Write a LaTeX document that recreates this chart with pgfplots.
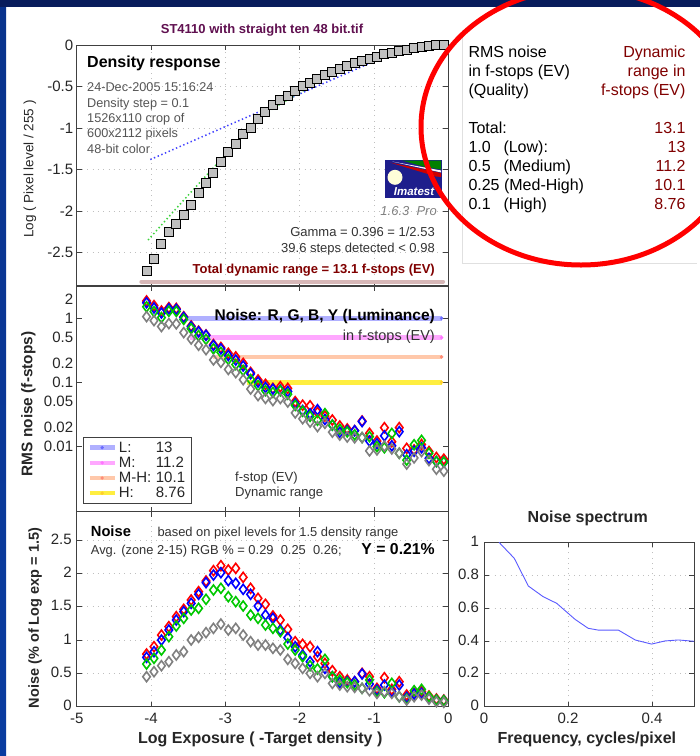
\documentclass[border=0pt]{standalone}
\usepackage{fontspec}
\setmainfont{Liberation Sans}
\usepackage{pgfplots}
\pgfplotsset{compat=1.18}
\usepackage{pgfplotstable}
\definecolor{navy}{RGB}{8,28,92}
\definecolor{sideblue}{RGB}{10,60,160}
\definecolor{ttl}{RGB}{96,16,80}
\definecolor{dred}{RGB}{128,0,0}
\definecolor{txtgray}{RGB}{85,85,85}
\definecolor{Lcol}{RGB}{176,176,255}
\definecolor{Mcol}{RGB}{255,168,255}
\definecolor{MHcol}{RGB}{255,200,170}
\definecolor{Hcol}{RGB}{255,238,64}
\definecolor{sqfill}{RGB}{192,192,192}
\definecolor{dgreen}{RGB}{0,200,0}
\definecolor{fitgreen}{RGB}{60,210,60}
\definecolor{specblue}{RGB}{90,90,255}
\definecolor{drline}{RGB}{216,184,184}
\definecolor{logoblue}{RGB}{30,30,140}
\definecolor{Ygray}{RGB}{128,128,128}

\pgfplotstableread{
x logp
-4.06 -2.724
-3.96 -2.579
-3.86 -2.397
-3.76 -2.252
-3.66 -2.151
-3.56 -2.050
-3.46 -1.925
-3.36 -1.788
-3.26 -1.659
-3.16 -1.546
-3.06 -1.413
-2.96 -1.295
-2.86 -1.190
-2.76 -1.069
-2.66 -0.997
-2.56 -0.888
-2.46 -0.807
-2.36 -0.726
-2.26 -0.666
-2.16 -0.613
-2.06 -0.553
-1.96 -0.496
-1.86 -0.452
-1.76 -0.408
-1.66 -0.363
-1.56 -0.323
-1.46 -0.287
-1.36 -0.254
-1.26 -0.222
-1.16 -0.194
-1.06 -0.166
-0.96 -0.141
-0.86 -0.113
-0.76 -0.093
-0.66 -0.073
-0.56 -0.057
-0.46 -0.040
-0.36 -0.024
-0.26 -0.012
-0.16 -0.004
-0.06 0.000
}\density

\pgfplotstableread{
x R G B Y
-4.06 1.87 1.515 1.75 1.065
-3.96 1.58 1.273 1.449 0.922
-3.86 1.30 1.028 1.209 0.744
-3.76 1.47 1.286 1.409 0.827
-3.66 1.43 1.281 1.377 0.821
-3.56 1.06 0.962 1.035 0.599
-3.46 0.76 0.689 0.736 0.475
-3.36 0.63 0.538 0.615 0.380
-3.26 0.55 0.470 0.543 0.324
-3.16 0.39 0.334 0.377 0.224
-3.06 0.35 0.294 0.333 0.205
-2.96 0.284 0.229 0.262 0.159
-2.86 0.25 0.190 0.223 0.142
-2.76 0.198 0.154 0.180 0.110
-2.66 0.143 0.111 0.136 0.0786
-2.56 0.109 0.0889 0.101 0.0621
-2.46 0.093 0.0742 0.0833 0.0561
-2.36 0.0806 0.0697 0.0786 0.0519
-2.26 0.0855 0.074 0.0757 0.0559
-2.16 0.0806 0.0653 0.0719 0.0493
-2.06 0.050 0.0436 0.0462 0.0333
-1.96 0.044 0.0353 0.0364 0.027
-1.86 0.043 0.0294 0.0323 0.0239
-1.76 0.034 0.0256 0.0374 0.0204
-1.66 0.0298 0.0325 0.0263 0.0229
-1.56 0.0258 0.0215 0.0215 0.0167
-1.46 0.0208 0.0185 0.0166 0.015
-1.36 0.0187 0.0168 0.0176 0.014
-1.26 0.0176 0.0152 0.0176 0.0136
-1.16 0.0249 0.0137 0.0244 0.0137
-1.06 0.016 0.0142 0.0121 0.0085
-0.96 0.0121 0.0099 0.011 0.0088
-0.86 0.0196 0.0095 0.0146 0.0101
-0.76 0.0118 0.0159 0.0102 0.0091
-0.66 0.0196 0.0078 0.017 0.0078
-0.56 0.0093 0.0061 0.0074 0.0053
-0.46 0.0088 0.0106 0.0084 0.0066
-0.36 0.0107 0.0124 0.0095 0.0083
-0.26 0.0083 0.0078 0.0065 0.006
-0.16 0.0067 0.0058 0.0058 0.0044
-0.06 0.0063 0.0057 0.0057 0.0041
}\fstop

\pgfplotstableread{
x R G B Y
-4.06 0.79 0.64 0.74 0.45
-3.96 0.90 0.725 0.825 0.525
-3.86 1.075 0.85 1.00 0.615
-3.76 1.20 1.05 1.15 0.675
-3.66 1.35 1.21 1.30 0.775
-3.56 1.46 1.325 1.425 0.825
-3.46 1.60 1.45 1.55 1.00
-3.36 1.725 1.475 1.685 1.04
-3.26 1.885 1.61 1.86 1.11
-3.16 2.04 1.75 1.975 1.175
-3.06 2.115 1.775 2.01 1.24
-2.96 2.05 1.65 1.89 1.15
-2.86 2.075 1.575 1.85 1.175
-2.76 1.94 1.51 1.76 1.075
-2.66 1.775 1.375 1.685 0.975
-2.56 1.625 1.325 1.51 0.925
-2.46 1.535 1.225 1.375 0.925
-2.36 1.36 1.175 1.325 0.875
-2.26 1.30 1.125 1.15 0.85
-2.16 1.16 0.94 1.035 0.71
-2.06 0.975 0.85 0.90 0.65
-1.96 0.935 0.75 0.775 0.575
-1.86 0.90 0.615 0.675 0.50
-1.76 0.75 0.565 0.825 0.45
-1.66 0.65 0.71 0.575 0.50
-1.56 0.54 0.45 0.45 0.35
-1.46 0.45 0.40 0.36 0.325
-1.36 0.40 0.36 0.375 0.30
-1.26 0.375 0.325 0.375 0.29
-1.16 0.50 0.275 0.49 0.275
-1.06 0.45 0.40 0.34 0.24
-0.96 0.275 0.225 0.25 0.20
-0.86 0.435 0.21 0.325 0.225
-0.76 0.26 0.35 0.225 0.20
-0.66 0.375 0.15 0.325 0.15
-0.56 0.175 0.115 0.14 0.10
-0.46 0.20 0.24 0.19 0.15
-0.36 0.225 0.26 0.20 0.175
-0.26 0.16 0.15 0.125 0.115
-0.16 0.115 0.10 0.10 0.075
-0.06 0.10 0.09 0.09 0.065
}\linnoise

\pgfplotsset{
  panel/.style={scale only axis, anchor=south west, xmin=-5, xmax=0, width=371.6pt,
    tick align=inside, major tick length=5pt,
    axis line style={black!75, line width=0.8pt},
    tick style={black!75, line width=0.8pt},
    tick label style={font=\fontsize{15}{17}\selectfont, text=black!85},
    /pgf/number format/assume math mode=true,
    xtick={-4,-3,-2,-1},
    grid style={gray!50, line width=0.7pt, dash pattern=on 0.8pt off 4.5pt}},
  dia/.style={only marks, mark=diamond, mark size=5pt, mark options={solid, line width=1.6pt}, forget plot}
}

\begin{document}
\begin{tikzpicture}
\fill[white] (0pt,0pt) rectangle (700pt,-756pt);
\shade[top color=sideblue!70!navy, bottom color=sideblue] (0pt,-7pt) rectangle (6pt,-756pt);
\fill[navy] (0pt,0pt) rectangle (700pt,-7pt);
\draw[black!12, line width=0.8pt] (462pt,-30pt) -- (462pt,-263pt) -- (697pt,-263pt);

% ---------------- Density response
\begin{axis}[panel, at={(76.7pt,-285.7pt)}, height=240.7pt, ymin=-2.9, ymax=0,
  xticklabels={}, ytick={-2.5,-2,-1.5,-1,-0.5,0}, grid=major,
  ylabel={Log ( Pixel level / 255 )},
  ylabel style={at={(axis description cs:-0.1257,0.485)}, anchor=center, font=\fontsize{13.5}{14}\selectfont, text=black!85}]
\addplot[drline, line width=4pt, line cap=round] coordinates {(-4.13,-2.85) (-0.07,-2.85)};
\addplot[blue!75, line width=1.5pt, dash pattern=on 1.4pt off 2.6pt] coordinates {(-4.01,-1.38) (-0.6,-0.04)};
\addplot[fitgreen, line width=1.5pt, dash pattern=on 1.4pt off 2.6pt, smooth] coordinates {(-4.04,-2.35) (-3.5,-1.81) (-2.89,-1.22) (-2.5,-0.86) (-2.2,-0.68) (-1.5,-0.33) (-1.0,-0.17) (-0.5,-0.07) (-0.06,-0.02)};
\addplot[only marks, mark=square*, mark size=4.5pt, mark options={fill=sqfill, draw=black, line width=1pt}] table[x=x,y=logp]{\density};
\end{axis}

% ---------------- Noise in f-stops
\begin{axis}[panel, at={(76.7pt,-511.5pt)}, height=225.5pt, ymode=log, ymin=0.00096, ymax=3.2,
  xticklabels={}, ytick={0.01,0.1,1}, yticklabels={0.01,0.1,1},
  extra y ticks={0.02,0.05,0.2,0.5,2}, extra y tick labels={0.02,0.05,0.2,0.5,2},
  extra y tick style={major tick length=0pt}, yminorticks=false,
  ylabel={RMS noise (f-stops)},
  ylabel style={at={(axis description cs:-0.130,0.477)}, anchor=center, font=\bfseries\fontsize{15.4}{16}\selectfont, text=black!85},
  legend image code/.code={\draw[mark repeat=2,mark phase=2,#1] plot coordinates {(0pt,0pt) (12.5pt,0pt) (25pt,0pt)};},
  legend style={at={(axis description cs:0.017,0.033)}, anchor=south west, draw=black!75, line width=0.8pt,
    font=\fontsize{15}{16}\selectfont, text=black!85, cells={anchor=west}, inner xsep=4pt, inner ysep=2.5pt, row sep=-0.8pt}]
\addlegendimage{Lcol, line width=4.5pt, mark=*, mark size=1.5pt, mark options={line width=0.4pt, fill=Lcol!60!blue, draw=Lcol!60!blue}}
\addlegendentry{\makebox[37pt][l]{L:}13\hspace{6pt}}
\addlegendimage{Mcol, line width=4.5pt, mark=*, mark size=1.5pt, mark options={line width=0.4pt, fill=Mcol!70!magenta, draw=Mcol!70!magenta}}
\addlegendentry{\makebox[37pt][l]{M:}11.2}
\addlegendimage{MHcol, line width=4.5pt, mark=*, mark size=1.5pt, mark options={line width=0.4pt, fill=MHcol!70!red, draw=MHcol!70!red}}
\addlegendentry{\makebox[37pt][l]{M-H:}10.1}
\addlegendimage{Hcol, line width=4.5pt, mark=*, mark size=1.5pt, mark options={line width=0.4pt, fill=Hcol!70!orange, draw=Hcol!70!orange}}
\addlegendentry{\makebox[37pt][l]{H:}8.76}
\addplot[Lcol, line width=4.5pt, forget plot, mark=*, mark indices={2}, mark size=1.5pt, mark options={line width=0.4pt, fill=Lcol!60!blue, draw=Lcol!60!blue}] coordinates {(-3.52,1) (-0.09,1)};
\addplot[Mcol, line width=4.5pt, forget plot, mark=*, mark indices={2}, mark size=1.5pt, mark options={line width=0.4pt, fill=Mcol!70!magenta, draw=Mcol!70!magenta}] coordinates {(-3.475,0.5) (-0.09,0.5)};
\addplot[MHcol, line width=4.5pt, forget plot, mark=*, mark indices={2}, mark size=1.5pt, mark options={line width=0.4pt, fill=MHcol!70!red, draw=MHcol!70!red}] coordinates {(-3.16,0.25) (-0.09,0.25)};
\addplot[Hcol, line width=4.5pt, forget plot, mark=*, mark indices={2}, mark size=1.5pt, mark options={line width=0.4pt, fill=Hcol!70!orange, draw=Hcol!70!orange}] coordinates {(-2.71,0.1) (-0.09,0.1)};
\addplot[dia, red] table[x=x,y=R]{\fstop};
\addplot[dia, blue] table[x=x,y=B]{\fstop};
\addplot[dia, dgreen] table[x=x,y=G]{\fstop};
\addplot[dia, Ygray] table[x=x,y=Y]{\fstop};
\end{axis}

% ---------------- Noise in percent
\begin{axis}[panel, at={(76.7pt,-706.7pt)}, height=195pt, ymin=0, ymax=2.924,
  xtick={-5,-4,-3,-2,-1,0}, ytick={0,0.5,1,1.5,2,2.5}, grid=major,
  xticklabel style={yshift=-2.5pt},
  yticklabel style={xshift=-1.5pt, yshift=1pt},
  xlabel={Log Exposure ( -Target density )},
  xlabel style={at={(axis description cs:0.494,-0.166)}, anchor=center, font=\bfseries\fontsize{16}{17}\selectfont, text=black!85},
  ylabel={Noise (\% of Log exp = 1.5)},
  ylabel style={at={(axis description cs:-0.112,0.455)}, anchor=center, font=\bfseries\fontsize{14.5}{15}\selectfont, text=black!85}]
\addplot[dia, red] table[x=x,y=R]{\linnoise};
\addplot[dia, blue] table[x=x,y=B]{\linnoise};
\addplot[dia, dgreen] table[x=x,y=G]{\linnoise};
\addplot[dia, Ygray] table[x=x,y=Y]{\linnoise};
\end{axis}

% ---------------- Noise spectrum
\begin{axis}[scale only axis, anchor=south west, at={(484pt,-706.7pt)}, width=210pt, height=164.4pt,
  xmin=0, xmax=0.5, ymin=0, ymax=1, xtick={0,0.2,0.4}, ytick={0,0.2,0.4,0.6,0.8,1},
  tick align=inside, major tick length=5pt,
  axis line style={black!75, line width=0.8pt}, tick style={black!75, line width=0.8pt},
  tick label style={font=\fontsize{15}{17}\selectfont, text=black!85},
  xticklabel style={yshift=-2.5pt},
  yticklabel style={xshift=-1.5pt, yshift=1pt},
  /pgf/number format/assume math mode=true, grid=major,
  grid style={gray!50, line width=0.7pt, dash pattern=on 0.8pt off 4.5pt},
  title={Noise spectrum},
  title style={at={(axis description cs:0.494,1.111)}, anchor=center, font=\bfseries\fontsize{16}{17}\selectfont, text=black!85},
  xlabel={Frequency, cycles/pixel},
  xlabel style={at={(axis description cs:0.49,-0.196)}, anchor=center, font=\bfseries\fontsize{16}{17}\selectfont, text=black!85}]
\addplot[specblue, line width=0.9pt] coordinates {(0.0357,1.0) (0.072,0.903) (0.1056,0.734) (0.141,0.669) (0.173,0.629) (0.217,0.531) (0.248,0.477) (0.272,0.466) (0.32,0.466) (0.36,0.406) (0.399,0.381) (0.431,0.40) (0.4627,0.406) (0.5,0.398)};
\end{axis}

% ---------------- title and annotations
\node[anchor=base, inner sep=0, text=ttl, font=\bfseries\fontsize{13}{14}\selectfont] at (262pt,-33.3pt) {ST4110 with straight ten 48 bit.tif};

\node[anchor=base west, inner sep=0, font=\bfseries\fontsize{16}{17}\selectfont] at (87pt,-67.7pt) {Density response};
\begin{scope}[every node/.style={anchor=base west, inner sep=0, text=txtgray, font=\fontsize{12.7}{14}\selectfont}]
\node at (87pt,-91.6pt) {24-Dec-2005 15:16:24};
\node at (87pt,-107pt) {Density step = 0.1};
\node at (87pt,-122.4pt) {1526x110 crop of};
\node at (87pt,-137.9pt) {600x2112 pixels};
\node at (87pt,-153.3pt) {48-bit color};
\end{scope}

% Imatest logo
\fill[logoblue] (385pt,-160pt) rectangle (441.7pt,-198.3pt);
\fill[green!50!black] (402pt,-160.5pt) -- (441.2pt,-160.5pt) -- (441.2pt,-169.5pt) -- (425pt,-167pt) -- cycle;
\fill[white!85!pink] (392pt,-161.5pt) -- (441.2pt,-170.5pt) -- (441.2pt,-172.5pt) -- cycle;
\fill[red!80!black] (390pt,-162.5pt) -- (441.2pt,-173pt) -- (441.2pt,-177pt) -- (436pt,-176.5pt) -- cycle;
\fill[yellow!15] (395pt,-177.3pt) circle (7.5pt);
\node[anchor=base, inner sep=0, text=white, font=\bfseries\itshape\fontsize{11.5}{12}\selectfont] at (414pt,-195pt) {Imatest};
\node[anchor=base east, inner sep=0, text=black!50, font=\itshape\fontsize{13}{14}\selectfont] at (437pt,-215pt) {1.6.3 \ Pro};

\node[anchor=base east, inner sep=0, text=black!80, font=\fontsize{13}{14}\selectfont] at (435pt,-236pt) {Gamma = 0.396 = 1/2.53};
\node[anchor=base east, inner sep=0, text=black!80, font=\fontsize{13}{14}\selectfont] at (435pt,-252.3pt) {39.6 steps detected < 0.98};
\node[anchor=base east, inner sep=0, text=dred, font=\bfseries\fontsize{13}{14}\selectfont] at (435pt,-273.3pt) {Total dynamic range = 13.1 f-stops (EV)};

\node[anchor=base east, inner sep=0, font=\bfseries\fontsize{15.5}{16}\selectfont] at (435pt,-320pt) {Noise: R, G, B, Y (Luminance)};
\node[anchor=base east, inner sep=0, text=black!80, font=\fontsize{14.5}{15}\selectfont] at (435pt,-340pt) {in f-stops (EV)};
\node[anchor=base west, inner sep=0, text=black!80, font=\fontsize{13.1}{14}\selectfont] at (235pt,-481pt) {f-stop (EV)};
\node[anchor=base west, inner sep=0, text=black!80, font=\fontsize{13.1}{14}\selectfont] at (235pt,-496pt) {Dynamic range};

\node[anchor=base west, inner sep=0, font=\bfseries\fontsize{14.7}{15}\selectfont] at (90.7pt,-536.7pt) {Noise};
\node[anchor=base west, inner sep=0, text=black!80, font=\fontsize{12.9}{14}\selectfont] at (157.3pt,-536.3pt) {based on pixel levels for 1.5 density range};
\node[anchor=base west, inner sep=0, text=black!80, font=\fontsize{12.9}{14}\selectfont] at (90.7pt,-554pt) {Avg. (zone 2-15) RGB \% = 0.29 \ 0.25 \ 0.26;};
\node[anchor=base east, inner sep=0, font=\bfseries\fontsize{15.8}{16}\selectfont] at (435pt,-554.3pt) {Y = 0.21\%};

% right text panel
\begin{scope}[every node/.style={inner sep=0, font=\fontsize{16}{17}\selectfont}]
\node[anchor=base west] at (468.3pt,-57.3pt) {RMS noise};
\node[anchor=base west] at (468.3pt,-76pt) {in f-stops (EV)};
\node[anchor=base west] at (468.3pt,-95pt) {(Quality)};
\node[anchor=base east, text=dred] at (685.7pt,-57.3pt) {Dynamic};
\node[anchor=base east, text=dred] at (685.7pt,-76pt) {range in};
\node[anchor=base east, text=dred] at (685.7pt,-95pt) {f-stops (EV)};
\node[anchor=base west] at (468.3pt,-133.3pt) {Total:};
\node[anchor=base west] at (468.3pt,-152.2pt) {1.0};
\node[anchor=base west] at (503.3pt,-152.2pt) {(Low):};
\node[anchor=base west] at (468.3pt,-171.1pt) {0.5};
\node[anchor=base west] at (503.3pt,-171.1pt) {(Medium)};
\node[anchor=base west] at (468.3pt,-190pt) {0.25 (Med-High)};
\node[anchor=base west] at (468.3pt,-209pt) {0.1};
\node[anchor=base west] at (503.3pt,-209pt) {(High)};
\node[anchor=base east, text=dred] at (685.7pt,-133.3pt) {13.1};
\node[anchor=base east, text=dred] at (685.7pt,-152.2pt) {13};
\node[anchor=base east, text=dred] at (685.7pt,-171.1pt) {11.2};
\node[anchor=base east, text=dred] at (685.7pt,-190pt) {10.1};
\node[anchor=base east, text=dred] at (685.7pt,-209pt) {8.76};
\end{scope}

% red ellipse
\begin{scope}
\clip (0pt,0pt) rectangle (700pt,-756pt);
\draw[red, line width=5pt] (581pt,-127pt) ellipse [x radius=160pt, y radius=138pt];
\end{scope}
\useasboundingbox (0pt,0pt) rectangle (700pt,-756pt);
\end{tikzpicture}
\end{document}
